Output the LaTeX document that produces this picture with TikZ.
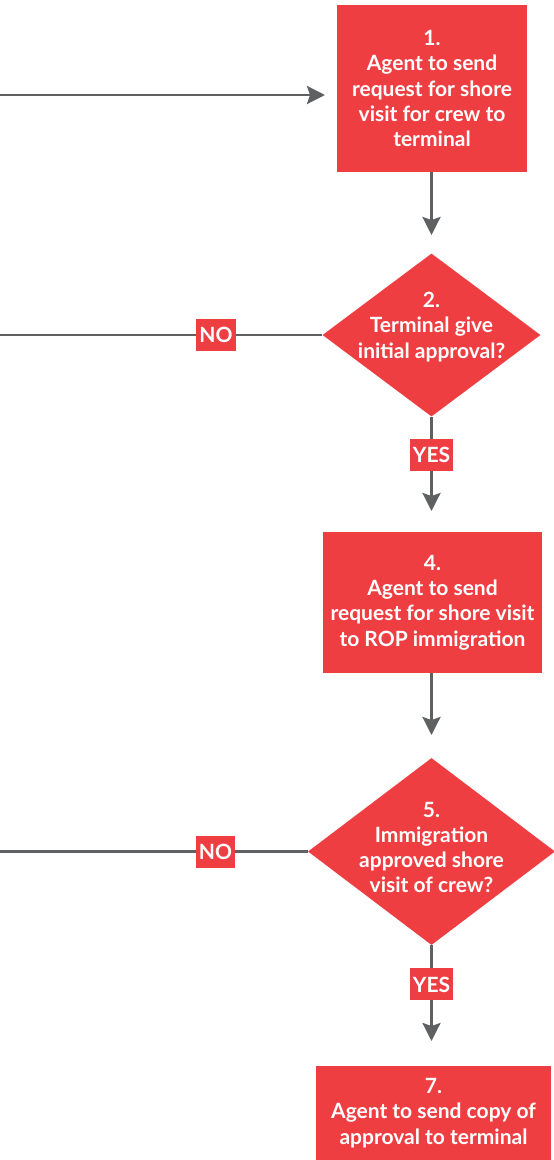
\documentclass[tikz,border=0pt]{standalone}
\usepackage{fontspec}
\setmainfont{Lato}
\usetikzlibrary{shapes.geometric,arrows.meta}
\definecolor{boxred}{HTML}{EF3E42}
\definecolor{linegray}{HTML}{5F6062}
\begin{document}
\begin{tikzpicture}[x=1pt,y=-1pt,
  boxfont/.style={font=\bfseries\fontsize{21}{25.3}\selectfont},
  stepbox/.style={rectangle, fill=boxred, draw=none, inner sep=0pt,
    text=white, align=center, boxfont},
  decision/.style={diamond, fill=boxred, draw=none, inner sep=0pt},
  dtext/.style={text=white, align=center, inner sep=0pt, boxfont},
  answer/.style={fill=boxred, text=white, inner xsep=3pt, inner ysep=0pt,
    minimum height=32pt, font=\bfseries\fontsize{21}{22}\selectfont},
  link/.style={draw=linegray, line width=2.8pt},
  flow/.style={link, -{Stealth[length=18pt,width=18pt,inset=3pt]}}
]
\useasboundingbox (0,0) rectangle (554,1160);

% process steps
\node[stepbox, minimum width=190pt, minimum height=167pt] (b1) at (432,88.5)
  {1.\\Agent to send\\request for shore\\visit for crew to\\terminal};
\node[stepbox, minimum width=219pt, minimum height=141pt] (b4) at (432.5,602.5)
  {4.\\Agent to send\\request for shore visit\\to ROP immigration};
\node[stepbox, minimum width=235pt, minimum height=94pt] (b7) at (433.5,1113)
  {7.\\Agent to send copy of\\approval to terminal};

% decisions
\node[decision, minimum width=218pt, minimum height=163pt] (d2) at (431.5,335) {};
\node[dtext] (t2) at ([yshift=8pt]d2.center) {2.\\Terminal give\\initial approval?};
\node[decision, minimum width=247pt, minimum height=187pt] (d5) at (431.5,851.5) {};
\node[dtext] (t5) at ([yshift=4pt]d5.center) {5.\\Immigration\\approved shore\\visit of crew?};

% loose ends on the left
\coordinate (src) at (0,95);
\coordinate (in1) at (325,95);
\coordinate (no2) at (0,335);
\coordinate (no5) at (0,851.5);
\coordinate (to2) at (431.5,235);
\coordinate (to4) at (431.5,511);
\coordinate (to5) at (431.5,735);
\coordinate (to7) at (431.5,1041);

% connectors
\draw[flow] (src) -- (in1);
\draw[flow] (b1.south -| to2) -- (to2);
\draw[link] (d2.west) -- (no2) node[answer, pos=0.33] (n2) {NO};
\draw[flow] (d2.south) -- (to4) node[answer, pos=0.405] (y2) {YES};
\draw[flow] (b4.south -| to5) -- (to5);
\draw[link] (d5.west) -- (no5) node[answer, pos=0.30] (n5) {NO};
\draw[flow] (d5.south) -- (to7) node[answer, pos=0.41] (y5) {YES};
\end{tikzpicture}
\end{document}
